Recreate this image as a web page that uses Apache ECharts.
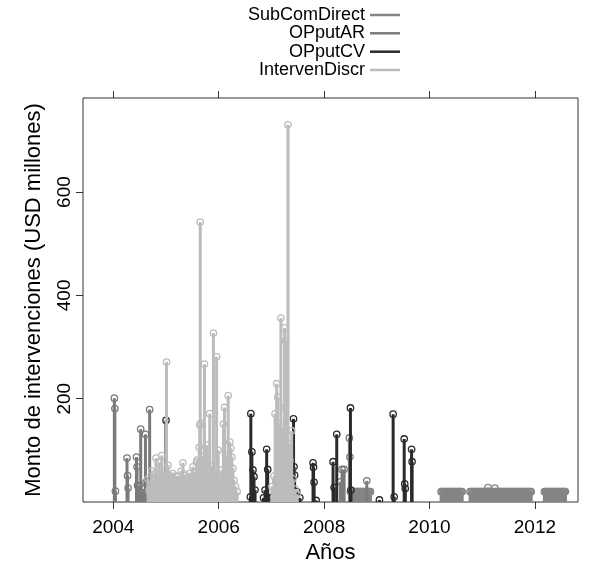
<!DOCTYPE html>
<html>
<head>
<meta charset="utf-8">
<script src="https://cdn.jsdelivr.net/npm/echarts@6/dist/echarts.min.js"></script>
<style>
  html, body { margin: 0; padding: 0; background: #fff; }
  #chart { width: 598px; height: 564px; }
</style>
</head>
<body>
<div id="chart"></div>
<script>
// series names, in drawing order
var seriesNames = ['SubComDirect', 'OPputAR', 'OPputCV', 'IntervenDiscr'];
var seriesColors = ['#858585', '#7b7b7b', '#2a2a2a', '#bcbcbc'];

var xTicks = [2004, 2006, 2008, 2010, 2012];
var yTicks = [200, 400, 600];

// [year, USD millions] - daily purchases of 20
var subComDirect = [
  [2008.50, 20], [2008.52, 20], [2008.54, 20], [2008.56, 20], [2008.58, 20], [2008.60, 20],
  [2008.62, 20], [2008.64, 20], [2008.66, 20], [2008.68, 20], [2008.70, 20], [2008.72, 20],
  [2008.74, 20], [2008.76, 20], [2008.78, 20], [2008.80, 20], [2008.82, 20], [2008.84, 20],
  [2008.86, 20], [2008.88, 20],
  [2010.22, 20], [2010.24, 20], [2010.26, 20], [2010.28, 20], [2010.30, 20], [2010.32, 20],
  [2010.34, 20], [2010.36, 20], [2010.38, 20], [2010.40, 20], [2010.42, 20], [2010.44, 20],
  [2010.46, 20], [2010.48, 20], [2010.50, 20], [2010.52, 20], [2010.54, 20], [2010.56, 20],
  [2010.58, 20], [2010.60, 20], [2010.62, 20],
  [2010.77, 20], [2010.79, 20], [2010.81, 20], [2010.83, 20], [2010.85, 20], [2010.87, 20],
  [2010.89, 20], [2010.91, 20], [2010.93, 20], [2010.95, 20], [2010.97, 20], [2010.99, 20],
  [2011.01, 20], [2011.03, 20], [2011.05, 20], [2011.07, 20], [2011.09, 20], [2011.11, 28],
  [2011.13, 20], [2011.15, 20], [2011.17, 20], [2011.19, 20], [2011.21, 20], [2011.23, 20],
  [2011.24, 27], [2011.25, 20], [2011.27, 20], [2011.29, 20], [2011.31, 20], [2011.33, 20],
  [2011.35, 20], [2011.37, 20], [2011.39, 20], [2011.41, 20], [2011.43, 20], [2011.45, 20],
  [2011.47, 20], [2011.49, 20], [2011.51, 20], [2011.53, 20], [2011.55, 20], [2011.57, 20],
  [2011.59, 20], [2011.61, 20], [2011.63, 20], [2011.65, 20], [2011.67, 20], [2011.69, 20],
  [2011.71, 20], [2011.73, 20], [2011.75, 20], [2011.77, 20], [2011.79, 20], [2011.81, 20],
  [2011.83, 20], [2011.85, 20], [2011.87, 20], [2011.89, 20], [2011.91, 20], [2011.93, 20],
  [2012.18, 20], [2012.20, 20], [2012.22, 20], [2012.24, 20], [2012.26, 20], [2012.28, 20],
  [2012.30, 20], [2012.32, 20], [2012.34, 20], [2012.36, 20], [2012.38, 20], [2012.40, 20],
  [2012.42, 20], [2012.44, 20], [2012.46, 20], [2012.48, 20], [2012.50, 20], [2012.52, 20],
  [2012.54, 20], [2012.56, 20], [2012.58, 20]
];

var opPutAR = [
  [2004.02, 201], [2004.03, 181], [2004.04, 21],
  [2004.26, 85], [2004.27, 51], [2004.28, 27],
  [2004.44, 87], [2004.45, 68], [2004.46, 32], [2004.49, 30],
  [2004.52, 141], [2004.55, 18], [2004.58, 25],
  [2004.61, 131], [2004.62, 38], [2004.65, 38],
  [2004.69, 179], [2004.70, 24], [2004.72, 15],
  [2008.31, 39], [2008.34, 63], [2008.38, 63],
  [2008.48, 124], [2008.49, 87], [2008.81, 41]
];

var opPutCV = [
  [2005.00, 158],
  [2006.60, 10], [2006.61, 171], [2006.63, 97], [2006.65, 62], [2006.67, 49], [2006.69, 23],
  [2006.85, 8], [2006.88, 23], [2006.91, 102], [2006.93, 63], [2006.94, 8],
  [2007.02, 10],
  [2007.42, 161], [2007.43, 68], [2007.44, 52], [2007.48, 20], [2007.54, 8],
  [2007.79, 76], [2007.80, 67], [2007.81, 38], [2007.85, 3],
  [2008.17, 78], [2008.19, 28], [2008.24, 131],
  [2008.50, 182], [2008.51, 23],
  [2009.05, 4],
  [2009.31, 170], [2009.33, 10],
  [2009.52, 122], [2009.53, 35], [2009.54, 26],
  [2009.66, 102], [2009.67, 78]
];

var intervenDiscr = [
  [2004.66, 45], [2004.68, 22], [2004.70, 30], [2004.73, 60], [2004.75, 28], [2004.77, 40],
  [2004.79, 55], [2004.81, 85], [2004.83, 25], [2004.85, 48], [2004.87, 77], [2004.89, 50],
  [2004.91, 30], [2004.92, 90], [2004.94, 35], [2004.96, 52], [2004.97, 60], [2005.00, 40],
  [2005.01, 271], [2005.03, 38], [2005.04, 71], [2005.06, 52], [2005.08, 45], [2005.10, 30],
  [2005.12, 48], [2005.13, 55], [2005.15, 26], [2005.16, 40], [2005.18, 50], [2005.19, 20],
  [2005.21, 42], [2005.23, 50], [2005.25, 22], [2005.27, 35], [2005.29, 60], [2005.31, 40],
  [2005.32, 76], [2005.34, 30], [2005.36, 52], [2005.38, 45], [2005.40, 33], [2005.41, 25],
  [2005.43, 48], [2005.44, 55], [2005.46, 28], [2005.47, 35], [2005.49, 50], [2005.51, 68],
  [2005.53, 40], [2005.55, 58], [2005.56, 25], [2005.58, 77], [2005.59, 81], [2005.61, 45],
  [2005.63, 106], [2005.64, 149], [2005.65, 542], [2005.66, 152], [2005.68, 60], [2005.70, 40],
  [2005.71, 88], [2005.73, 267], [2005.75, 50], [2005.77, 72], [2005.78, 110], [2005.80, 45],
  [2005.83, 171], [2005.84, 49], [2005.86, 70], [2005.88, 38], [2005.90, 327], [2005.92, 55],
  [2005.94, 32], [2005.96, 281], [2005.98, 40], [2005.99, 100], [2006.01, 48], [2006.02, 30],
  [2006.03, 50], [2006.05, 35], [2006.06, 62], [2006.08, 45], [2006.09, 151], [2006.11, 183],
  [2006.13, 90], [2006.15, 40], [2006.17, 55], [2006.18, 206], [2006.20, 60], [2006.21, 116],
  [2006.23, 104], [2006.25, 87], [2006.27, 65], [2006.29, 42], [2006.32, 30], [2006.35, 20],
  [2007.01, 30], [2007.05, 50], [2007.07, 171], [2007.08, 42], [2007.10, 229], [2007.12, 203],
  [2007.125, 65], [2007.135, 152], [2007.15, 48], [2007.18, 356], [2007.19, 100], [2007.21, 60],
  [2007.23, 145], [2007.25, 337], [2007.26, 183], [2007.27, 312], [2007.29, 40], [2007.315, 730],
  [2007.34, 113], [2007.35, 80], [2007.385, 138], [2007.41, 45], [2007.45, 25], [2007.49, 15]
];

var seriesData = [subComDirect, opPutAR, opPutCV, intervenDiscr];

var FONT = '"Liberation Sans", Arial, Helvetica, sans-serif';

// vertical stem from 0 up to the value, open circle at the top
function renderStem(params, api) {
    var base = api.coord([api.value(0), 0]);
    var top = api.coord([api.value(0), api.value(1)]);
    var color = api.visual('color');
    return {
        type: 'group',
        children: [
            {
                type: 'line',
                shape: {x1: base[0], y1: base[1], x2: top[0], y2: top[1]},
                style: {stroke: color, lineWidth: 3}
            },
            {
                type: 'circle',
                shape: {cx: top[0], cy: top[1], r: 3.2},
                style: {fill: 'none', stroke: color, lineWidth: 1.3}
            }
        ]
    };
}

var series = seriesNames.map(function (name, i) {
    return {
        name: name,
        type: 'custom',
        renderItem: renderStem,
        clip: true,
        encode: {x: 0, y: 1},
        itemStyle: {color: seriesColors[i]},
        data: seriesData[i]
    };
});

// one legend per row: text right-aligned, line key on the right
var legendTops = [6, 24.3, 42.7, 61];
var legends = seriesNames.map(function (name, i) {
    return {
        data: [name],
        right: 198,
        top: legendTops[i],
        align: 'right',
        padding: 0,
        icon: 'rect',
        itemWidth: 30,
        itemHeight: 2.5,
        selectedMode: false,
        textStyle: {fontFamily: FONT, fontSize: 18, color: '#000'}
    };
});

var tickStyle = {show: true, length: 7, lineStyle: {color: '#333', width: 1}};

var option = {
    animation: false,
    color: seriesColors,
    legend: legends,
    grid: {
        left: 83, right: 20, top: 98, bottom: 62,
        outerBoundsMode: 'none',
        show: true, borderColor: '#333', borderWidth: 1
    },
    xAxis: [
        {
            type: 'value',
            position: 'bottom',
            min: 2003.425,
            max: 2012.818,
            name: 'Años',
            nameLocation: 'middle',
            nameGap: 38,
            nameTextStyle: {fontFamily: FONT, fontSize: 22, color: '#000'},
            axisLine: {show: false},
            splitLine: {show: false},
            axisTick: Object.assign({customValues: xTicks}, tickStyle),
            axisLabel: {
                customValues: xTicks,
                formatter: function (v) { return String(v); },
                margin: 16,
                fontFamily: FONT, fontSize: 19, color: '#000'
            }
        },
        {
            type: 'value',
            position: 'top',
            min: 2003.425,
            max: 2012.818,
            axisLine: {show: false},
            splitLine: {show: false},
            axisTick: Object.assign({customValues: xTicks}, tickStyle),
            axisLabel: {show: false}
        }
    ],
    yAxis: {
        type: 'value',
        min: 0,
        max: 782,
        name: 'Monto de intervenciones (USD millones)',
        nameLocation: 'middle',
        nameGap: 38,
        nameTextStyle: {fontFamily: FONT, fontSize: 22, color: '#000'},
        axisLine: {show: false},
        splitLine: {show: false},
        axisTick: Object.assign({customValues: yTicks}, tickStyle),
        axisLabel: {
            customValues: yTicks,
            rotate: 90,
            margin: 9,
            fontFamily: FONT, fontSize: 19, color: '#000'
        }
    },
    series: series
};

var chart = echarts.init(document.getElementById('chart'));
chart.setOption(option);
</script>
</body>
</html>
